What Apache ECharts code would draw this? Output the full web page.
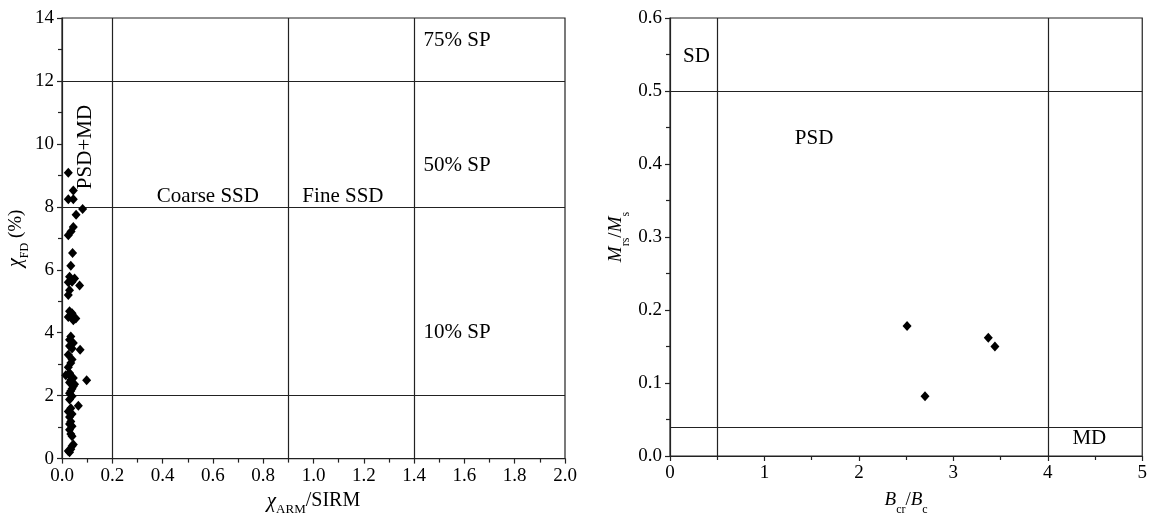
<!DOCTYPE html>
<html>
<head>
<meta charset="utf-8">
<script src="https://cdn.jsdelivr.net/npm/echarts@6/dist/echarts.min.js"></script>
<style>
html,body{margin:0;padding:0;background:#fff;}
#chart{width:1150px;height:521px;}
</style>
</head>
<body>
<div id="chart"></div>
<script>
// ---------- DATA ----------
// Left panel: chi_ARM/SIRM (x) vs chi_FD % (y)
var leftX = [0.025,0.045,0.025,0.045,0.082,0.056,0.045,0.036,0.025,0.042,0.035,
  0.030,0.050,0.040,0.025,0.070,0.030,0.025,
  0.030,0.040,0.050,0.025,0.035,0.055,0.045,
  0.035,0.030,0.045,0.030,0.040,0.072,0.025,0.040,0.035,
  0.025,0.030,0.015,0.035,0.045,0.030,0.050,0.098,0.040,0.030,0.040,0.030,0.045,0.035,
  0.065,0.035,0.025,0.040,0.030,0.035,0.040,0.030,0.035,0.040,0.030,
  0.045,0.035,0.030,0.025,0.040,0.030,0.035];
var leftY = [9.08,8.52,8.24,8.24,7.93,7.75,7.36,7.22,7.10,6.53,6.13,
  5.78,5.72,5.62,5.60,5.50,5.35,5.20,
  4.68,4.62,4.46,4.50,4.55,4.45,4.40,
  3.88,3.78,3.67,3.58,3.50,3.46,3.30,3.15,3.04,
  2.90,2.72,2.65,2.62,2.56,2.42,2.36,2.49,2.22,2.08,1.98,1.88,2.30,2.15,
  1.68,1.60,1.50,1.42,1.32,1.18,1.03,0.92,0.78,0.71,1.10,
  0.45,0.30,0.20,0.24,0.40,2.70,2.50];
var leftXTicks = [0,2];      // x axis range
var leftYTicks = [0,14];     // y axis range
var leftVLines = [0.2,0.9,1.4];
var leftHLines = [12,8,2];
var leftLabels = ['75% SP','50% SP','10% SP','Coarse SSD','Fine SSD','PSD+MD'];
var leftLabelX = [1.571,1.571,1.571,0.58,1.117,0.095];
var leftLabelY = [13.3,9.3,4.0,8.32,8.32,9.9];

// Right panel: Bcr/Bc (x) vs Mrs/Ms (y)
var rightX = [2.51,2.70,3.37,3.44];
var rightY = [0.178,0.082,0.162,0.150];
var rightXTicks = [0,5];
var rightYTicks = [0,0.6];
var rightVLines = [0.5,4];
var rightHLines = [0.5,0.043];
var rightLabels = ['SD','PSD','MD'];
var rightLabelX = [0.28,1.525,4.44];
var rightLabelY = [0.547,0.435,0.024];

// ---------- CHART ----------
var FONT = '"Liberation Serif","DejaVu Serif",serif';
var TXT = '#000';
var LINE = '#222';

function zip(a,b){return a.map(function(v,i){return [v,b[i]];});}
function labelData(names,xs,ys){return names.map(function(n,i){return {name:n,value:[xs[i],ys[i]]};});}

function axisCommon(){
  return {
    axisLine:{show:true,onZero:false,lineStyle:{color:LINE,width:1.2}},
    axisTick:{show:true,inside:false,length:5,lineStyle:{color:LINE,width:1.2}},
    minorTick:{show:true,splitNumber:2,length:4,lineStyle:{color:LINE,width:1.2}},
    splitLine:{show:false},
    axisLabel:{color:TXT,fontFamily:FONT,fontSize:19,margin:8},
    nameTextStyle:{color:TXT,fontFamily:FONT,fontSize:19}
  };
}
function merge(a,b){for(var k in b){a[k]=b[k];}return a;}

var mlStyle = {color:LINE,width:1.2,type:'solid'};
function markLines(vs,hs){
  var d=[];
  vs.forEach(function(v){d.push({xAxis:v});});
  hs.forEach(function(h){d.push({yAxis:h});});
  return {silent:true,symbol:['none','none'],label:{show:false},lineStyle:mlStyle,emphasis:{disabled:true},data:d,animation:false};
}
var annLabel = {show:true,position:'inside',formatter:'{b}',color:TXT,fontFamily:FONT,fontSize:21,textBorderWidth:0,textBorderColor:'transparent',opacity:1};

var option = {
  animation:false,
  backgroundColor:'#fff',
  grid:[
    {left:62,right:585,top:18,bottom:62,show:true,borderColor:LINE,borderWidth:1.2,backgroundColor:'transparent'},
    {left:670,right:7,top:18,bottom:61,show:true,borderColor:LINE,borderWidth:1.2,backgroundColor:'transparent'}
  ],
  xAxis:[
    merge(axisCommon(),{
      gridIndex:0,type:'value',min:leftXTicks[0],max:leftXTicks[1],interval:0.2,
      name:'{chi|χ}{sub|ARM}{n|/SIRM}',nameLocation:'middle',nameGap:30,
      nameTextStyle:{color:TXT,fontFamily:FONT,fontSize:20,rich:{
        chi:{fontFamily:FONT,fontSize:21,fontStyle:'italic',color:TXT,lineHeight:24},
        sub:{fontFamily:FONT,fontSize:13,color:TXT,verticalAlign:'bottom',lineHeight:12,padding:[0,0,-3,0]},
        n:{fontFamily:FONT,fontSize:20,color:TXT,lineHeight:24}}},
      axisLabel:{color:TXT,fontFamily:FONT,fontSize:19,margin:8,formatter:function(v){return v.toFixed(1);}}
    }),
    merge(axisCommon(),{
      gridIndex:1,type:'value',min:rightXTicks[0],max:rightXTicks[1],interval:1,
      name:'{it|B}{sub|cr}{n|/}{it|B}{sub|c}',nameLocation:'middle',nameGap:32,
      nameTextStyle:{color:TXT,fontFamily:FONT,fontSize:19,rich:{
        it:{fontFamily:FONT,fontSize:19,fontStyle:'italic',color:TXT,lineHeight:24},
        sub:{fontFamily:FONT,fontSize:12,color:TXT,verticalAlign:'bottom',lineHeight:12,padding:[0,0,-4,0]},
        n:{fontFamily:FONT,fontSize:19,color:TXT,lineHeight:24}}}
    })
  ],
  yAxis:[
    merge(axisCommon(),{
      gridIndex:0,type:'value',min:leftYTicks[0],max:leftYTicks[1],interval:2,
      name:'{chi|χ}{sub|FD}{n| (%)}',nameLocation:'middle',nameGap:30,nameRotate:90,
      nameTextStyle:{color:TXT,fontFamily:FONT,fontSize:19,rich:{
        chi:{fontFamily:FONT,fontSize:20,fontStyle:'italic',color:TXT,lineHeight:24},
        sub:{fontFamily:FONT,fontSize:12,color:TXT,verticalAlign:'bottom',lineHeight:12,padding:[0,0,-3,0]},
        n:{fontFamily:FONT,fontSize:19,color:TXT,lineHeight:24}}}
    }),
    merge(axisCommon(),{
      gridIndex:1,type:'value',min:rightYTicks[0],max:rightYTicks[1],interval:0.1,
      name:'{it|M}{sub|rs}{n|/}{it|M}{sub|s}',nameLocation:'middle',nameGap:42,nameRotate:90,
      nameTextStyle:{color:TXT,fontFamily:FONT,fontSize:19,rich:{
        it:{fontFamily:FONT,fontSize:19,fontStyle:'italic',color:TXT,lineHeight:24},
        sub:{fontFamily:FONT,fontSize:12,color:TXT,verticalAlign:'bottom',lineHeight:12,padding:[0,0,-4,0]},
        n:{fontFamily:FONT,fontSize:19,color:TXT,lineHeight:24}}},
      axisLabel:{color:TXT,fontFamily:FONT,fontSize:19,margin:8,formatter:function(v){return v.toFixed(1);}}
    })
  ],
  series:[
    {type:'scatter',xAxisIndex:0,yAxisIndex:0,symbol:'diamond',symbolSize:[9,10],
     itemStyle:{color:'#000',opacity:1},data:zip(leftX,leftY),z:5,
     markLine:markLines(leftVLines,leftHLines)},
    {type:'scatter',xAxisIndex:0,yAxisIndex:0,symbolSize:0,silent:true,
     itemStyle:{color:'#000',opacity:1},
     data:labelData(leftLabels,leftLabelX,leftLabelY),
     label:annLabel,
     labelLayout:function(p){return p.dataIndex===5?{rotate:90}:{};}},
    {type:'scatter',xAxisIndex:1,yAxisIndex:1,symbol:'diamond',symbolSize:[9,10],
     itemStyle:{color:'#000',opacity:1},data:zip(rightX,rightY),z:5,
     markLine:markLines(rightVLines,rightHLines)},
    {type:'scatter',xAxisIndex:1,yAxisIndex:1,symbolSize:0,silent:true,
     itemStyle:{color:'#000',opacity:1},
     data:labelData(rightLabels,rightLabelX,rightLabelY),
     label:annLabel}
  ]
};
var chart = echarts.init(document.getElementById('chart'),null,{renderer:'canvas'});
chart.setOption(option);
</script>
</body>
</html>
